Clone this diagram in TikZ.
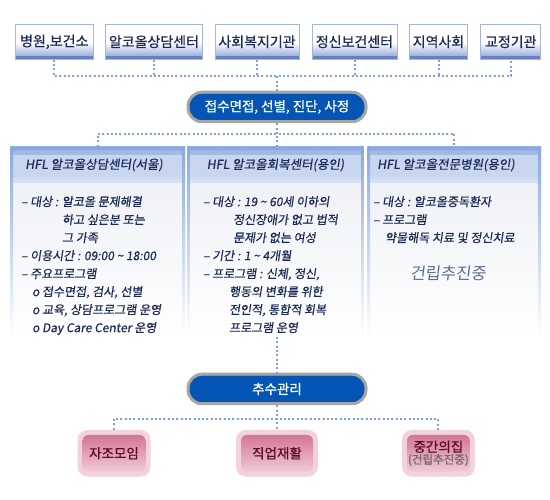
\documentclass[tikz,border=0pt]{standalone}
\usepackage{fontspec}
\setmainfont{Noto Sans CJK KR}[FakeBold=0.7]
\newfontfamily\krit[FakeSlant=0.15,FakeBold=0.6]{Noto Sans CJK KR}
\newfontfamily\krthin[FakeSlant=0.12]{Noto Sans CJK KR}
\newfontfamily\krpill[FakeBold=1.0]{Noto Sans CJK KR}
\usetikzlibrary{calc}
\definecolor{navy}{HTML}{1B2A58}
\definecolor{tbord}{HTML}{A3B6DE}
\definecolor{tblue}{HTML}{9DB0DE}
\definecolor{tdark}{HTML}{6680C0}
\definecolor{connc}{HTML}{7F9DE2}
\definecolor{pgray}{HTML}{A6A6A6}
\definecolor{pblue}{HTML}{0556B4}
\definecolor{prim}{HTML}{2F7AD2}
\definecolor{pbord}{HTML}{8AA8DE}
\definecolor{headfill}{HTML}{C8D6EF}
\definecolor{bodytop}{HTML}{ECEEF3}
\definecolor{pinkout}{HTML}{F2D3DD}
\definecolor{pinktop}{HTML}{D06A8C}
\definecolor{pinkbot}{HTML}{F4D6E0}
\definecolor{maroon}{HTML}{5C0A22}
\definecolor{soongray}{HTML}{5F6E90}
\definecolor{paren}{HTML}{6B6B6B}
\begin{document}
\begin{tikzpicture}[x=1pt,y=-1pt,
  conn/.style={connc, line width=2pt, dash pattern=on 2pt off 2.3pt},
  tbox/.style={draw=tbord, line width=1pt, minimum height=35pt, inner sep=0pt,
    text=navy, font=\fontsize{14}{15}\selectfont,
    path picture={
      \fill[white] (path picture bounding box.north west) rectangle (path picture bounding box.south east);
      \shade[top color=white, bottom color=tblue] ($(path picture bounding box.south west)+(0,-17)$) rectangle ($(path picture bounding box.south east)+(0,-3.5)$);
      \fill[tdark] (path picture bounding box.south west) rectangle ($(path picture bounding box.south east)+(0,-3.5)$);
    }},
  pill/.style={draw=pgray, line width=3pt, rounded corners=14pt, fill=pblue,
    minimum width=178pt, minimum height=29.5pt, inner sep=0pt, text=white,
    font=\krpill\fontsize{13.5}{15}\selectfont,
    path picture={
      \draw[prim, line width=2.6pt, rounded corners=13pt] (path picture bounding box.north west) rectangle (path picture bounding box.south east);
    }},
  panel/.style={minimum height=190pt, inner sep=0pt,
    path picture={
      \shade[top color=bodytop, bottom color=white] ($(path picture bounding box.north west)+(0,36)$) rectangle (path picture bounding box.south east);
      \shade[top color=pbord!80!headfill, bottom color=headfill!70!white] (path picture bounding box.north west) rectangle ($(path picture bounding box.north east)+(0,36)$);
      \fill[headfill] ($(path picture bounding box.north west)+(0,8)$) rectangle ($(path picture bounding box.north east)+(0,30)$);
      \fill[pbord] (path picture bounding box.north west) rectangle ($(path picture bounding box.north east)+(0,3)$);
      \shade[top color=pbord, bottom color=white] (path picture bounding box.north west) rectangle ($(path picture bounding box.south west)+(2.5,0)$);
      \shade[top color=pbord, bottom color=white] ($(path picture bounding box.north east)+(-2.5,0)$) rectangle (path picture bounding box.south east);
    }},
  headtxt/.style={text=navy, inner sep=0pt, font=\krit\fontsize{12.5}{14}\selectfont},
  bodytxt/.style={text=navy, inner sep=0pt, anchor=north west, align=left,
    font=\krit\fontsize{12}{18}\selectfont},
  rbox/.style={fill=pinkout, rounded corners=10pt, minimum width=73pt, minimum height=46.7pt,
    inner sep=0pt, text=maroon, font=\fontsize{13.5}{15}\selectfont, align=center,
    path picture={
      \shade[top color=pinktop, bottom color=pinkbot, rounded corners=6pt] ($(path picture bounding box.north west)+(5,5)$) rectangle ($(path picture bounding box.south east)+(-5,-5)$);
    }}
]
\useasboundingbox (0,0) rectangle (550,500);
\fill[white] (0,0) rectangle (550,500);

% top row
\node[tbox, minimum width=77.5pt] (t1) at (54.3,41.8) {병원,보건소};
\node[tbox, minimum width=97pt]   (t2) at (154,41.8) {알코올상담센터};
\node[tbox, minimum width=84pt]   (t3) at (257,41.8) {사회복지기관};
\node[tbox, minimum width=85pt]   (t4) at (354.5,41.8) {정신보건센터};
\node[tbox, minimum width=58pt]   (t5) at (438.5,41.8) {지역사회};
\node[tbox, minimum width=60pt]   (t6) at (510.8,41.8) {교정기관};

% intake pill
\node[pill] (p1) at (277,107) {접수면접, 선별, 진단, 사정};

% panels
\node[panel, minimum width=174.4pt] (c1) at (97.8,242) {};
\node[panel, minimum width=176.4pt] (c2) at (275.5,242) {};
\node[panel, minimum width=173.4pt] (c3) at (454.3,242) {};

\node[headtxt] (h1) at (94,165) {HFL 알코올상담센터(서울)};
\node[headtxt] (h2) at (275.5,165) {HFL 알코올회복센터(용인)};
\node[headtxt] (h3) at (446,165) {HFL 알코올전문병원(용인)};

\node[bodytxt] (x1) at (21,196) {– 대상 : 알코올 문제해결\\
\hspace*{41pt}하고 싶은분 또는\\
\hspace*{41pt}그 가족\\
– 이용시간 : 09:00 {\textasciitilde} 18:00\\
– 주요프로그램\\
\hspace*{11pt}o 접수면접, 검사, 선별\\
\hspace*{11pt}o 교육, 상담프로그램 운영\\
\hspace*{11pt}o Day Care Center 운영};

\node[bodytxt] (x2) at (203,196) {– 대상 : 19 {\textasciitilde} 60세 이하의\\
\hspace*{30pt}정신장애가 없고 법적\\
\hspace*{30pt}문제가 없는 여성\\
– 기간 : 1 {\textasciitilde} 4개월\\
– 프로그램 : 신체, 정신,\\
\hspace*{26pt}행동의 변화를 위한\\
\hspace*{26pt}전인적, 통합적 회복\\
\hspace*{26pt}프로그램 운영};

\node[bodytxt] (x3) at (373,196) {– 대상 : 알코올중독환자\\
– 프로그램\\
\hspace*{12pt}약물해독 치료 및 정신치료};

\node[text=soongray, inner sep=0pt, font=\krthin\fontsize{16.5}{18}\selectfont] (x4) at (448,273) {건립추진중};

% follow-up pill
\node[pill] (p2) at (277,389) {추수관리};

% bottom boxes
\node[rbox] (r1) at (114,453.3) {자조모임};
\node[rbox, minimum width=82pt] (r2) at (277,453.3) {직업재활};
\node[rbox] (r3) at (438.4,453.3) {중간의집\\[-3pt]{\color{paren}\fontsize{11.5}{12}\selectfont(건립추진중)}};

% connectors
\coordinate (b1) at (277,76.3);
\coordinate (b2) at (277,134);
\coordinate (b3) at (277,419);
\draw[conn] (t1.south) |- (b1) -| (t6.south);
\foreach \n in {t2,t3,t4,t5} \draw[conn] (\n.south) -- (\n.south |- b1);
\draw[conn] (b1) -- (p1.north);
\draw[conn] (c1.north) |- (b2) -| (c3.north);
\draw[conn] (p1.south) -- (p1.south |- c2.north);
\draw[conn] (p2.north |- c2.south) -- (p2.north);
\draw[conn] (r1.north) |- (b3) -| (r3.north);
\draw[conn] (p2.south) -- (r2.north);
\end{tikzpicture}
\end{document}
